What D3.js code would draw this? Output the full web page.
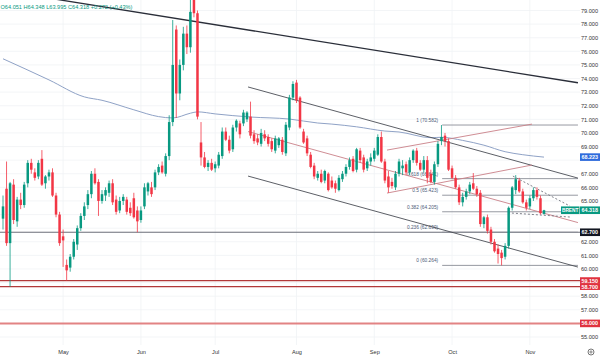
<!DOCTYPE html>
<html><head><meta charset="utf-8">
<script src="https://cdn.jsdelivr.net/npm/d3@7"></script>
<style>html,body{margin:0;padding:0;background:#fff;}svg{display:block;font-family:"Liberation Sans",Arial,sans-serif;}</style>
</head><body><svg id="c" width="600" height="359"></svg>
<script>
const openV=[63.7,65.9,61.9,66.2,63.5,65.1,64.7,66.3,67.8,67.1,66.8,68.1,66.3,66.8,67.1,65.4,64.0,62.4,60.3,60.1,60.9,61.8,63.0,63.9,64.7,65.5,67.0,66.4,65.0,65.4,65.6,66.3,65.1,64.3,65.0,65.1,64.5,65.2,64.3,63.6,64.6,65.7,66.0,66.0,67.1,67.6,67.0,68.3,70.8,77.6,72.9,75.0,77.3,76.3,81.0,78.8,69.3,68.2,67.5,67.8,67.4,67.6,68.3,70.1,69.5,68.8,70.4,70.7,70.7,71.0,71.2,69.9,69.6,69.2,69.9,69.7,69.4,68.7,69.1,69.5,68.5,70.4,72.6,73.7,72.6,70.1,69.6,68.4,67.6,66.7,67.0,66.5,67.0,66.5,66.3,65.8,66.6,67.0,67.5,68.1,67.3,68.7,68.2,67.4,67.9,68.1,68.4,69.7,67.9,66.8,66.4,66.0,67.0,67.4,67.7,67.1,68.0,68.7,67.8,67.3,68.0,67.0,66.4,67.7,69.4,69.8,69.4,67.4,66.7,66.0,64.9,65.3,65.7,66.3,65.9,65.6,63.3,63.8,62.9,62.0,61.5,61.2,60.9,61.7,64.5,65.8,66.5,65.7,64.9,64.6,65.2,65.8,65.2,64.051];
const highV=[65.4,67.9,66.4,66.6,65.3,65.6,66.4,68.0,68.1,67.4,68.0,68.74,66.9,67.3,67.4,65.6,64.2,62.9,60.7,61.1,62.2,63.2,64.1,64.9,65.8,67.2,67.4,66.6,65.8,66.0,66.5,66.6,65.4,65.3,65.5,65.3,64.9,65.6,64.6,64.6,66.3,66.4,66.4,67.3,67.7,67.9,68.5,71.3,78.3,77.9,75.4,77.8,77.9,79.9,81.5,79.0,70.8,68.6,68.0,68.1,67.9,68.6,70.4,70.4,69.8,70.6,71.0,70.9,71.7,71.6,72.3,70.2,69.9,70.3,70.2,69.9,69.6,69.8,69.7,69.7,70.8,72.8,73.8,73.9,72.7,70.3,69.8,68.6,67.8,67.2,67.3,67.3,67.1,66.8,66.5,66.9,67.2,67.7,68.2,68.3,68.9,68.9,68.4,68.1,68.5,68.9,69.9,70.1,68.1,67.2,66.7,67.2,68.1,68.0,67.9,68.2,68.8,68.9,68.0,68.3,68.3,67.3,67.9,69.4,70.582,70.0,69.6,67.6,66.9,66.2,65.6,65.9,66.4,67.05,66.1,65.8,63.9,64.0,63.1,62.2,61.8,61.4,61.9,64.6,66.1,66.9,66.7,65.9,65.1,65.4,66.0,66.0,65.4,64.348];
const lowV=[62.9,61.7,58.7,63.3,63.1,64.4,64.5,66.0,67.0,66.5,66.6,66.1,65.9,66.5,65.3,63.8,61.7,60.15,59.15,59.8,60.7,61.4,62.8,63.6,64.4,65.2,66.2,63.9,64.8,65.0,65.3,64.7,64.0,64.1,64.7,64.0,63.9,63.7,62.7,63.4,64.4,65.4,65.3,65.8,66.9,67.0,66.8,68.0,70.5,71.1,72.4,74.6,75.8,75.9,78.5,71.0,67.6,67.4,67.2,67.2,67.1,67.4,68.1,69.4,68.5,68.6,70.1,69.6,70.5,70.8,69.6,69.2,69.1,69.0,69.4,69.0,68.6,68.5,68.9,68.4,68.3,70.2,72.4,72.2,70.3,69.2,68.3,67.4,66.6,66.5,66.3,66.3,65.7,65.9,65.6,65.7,66.4,66.8,67.3,67.1,67.1,67.8,67.1,67.2,67.6,67.9,68.3,67.8,66.3,65.6,65.9,65.8,66.8,66.9,66.9,66.9,67.8,67.6,67.2,67.1,66.3,66.3,66.2,67.5,69.1,69.0,67.2,66.6,65.9,64.7,64.6,65.1,65.5,65.8,65.3,63.1,63.0,62.6,61.8,61.2,60.4,60.264,60.7,61.5,64.3,65.5,65.6,64.8,64.3,64.4,65.0,65.1,64.0,63.995];
const closeV=[64.6,61.9,66.3,63.6,65.1,64.7,66.2,67.8,67.3,66.7,67.8,66.2,66.8,67.1,65.4,64.0,61.9,62.1,59.9,60.9,62.0,63.0,63.9,64.6,65.5,67.0,66.3,65.0,65.5,65.8,66.3,64.9,64.2,65.0,65.3,64.2,64.1,63.8,63.5,64.3,66.0,66.3,65.5,67.1,67.5,67.1,68.3,70.8,75.0,72.9,75.0,77.3,76.3,78.9,78.8,71.2,68.2,67.5,67.8,67.3,67.7,68.4,70.1,69.5,68.7,70.4,70.9,69.9,71.5,71.5,69.8,69.4,69.3,70.0,69.6,69.2,68.8,69.6,69.6,68.6,70.6,72.6,73.6,72.4,70.4,69.3,68.5,67.5,66.8,67.0,66.4,67.2,65.8,66.0,65.9,66.7,67.0,67.5,68.0,67.2,68.8,68.0,67.3,67.9,68.2,68.7,69.7,67.9,66.5,66.0,66.1,67.0,67.9,67.6,67.1,68.0,68.7,67.8,67.3,68.0,66.7,66.4,67.7,69.2,69.7,69.4,67.3,66.7,66.0,64.9,65.3,65.7,66.2,65.9,65.5,63.3,63.8,62.8,62.0,61.3,61.1,60.8,61.7,64.5,66.0,66.6,65.7,64.9,64.5,65.2,65.8,65.3,64.1,64.318];
const monthLabels=["May","Jun","Jul","Aug","Sep","Oct","Nov"];
const monthIdx=[17,39,60,83,105,127,149];
const priceTicks=[55,56,57,58,59,60,61,62,63,64,65,66,67,68,69,70,71,72,73,74,75,76,77,78,79];
const maIdx=[0,13,23,28,37,44,48,53,55,60,70,81,89,93,100,108,112,121,124,130,136,142,147,153];
const maVal=[75.45,73.9,72.65,72.4,71.7,71.2,71.1,71.45,71.55,71.4,71.17,71.02,70.73,70.65,70.45,70.14,70.07,69.65,69.68,69.45,69.1,68.62,68.4,68.223];
const trendIdx=[0,162.6], trendVal=[80.45,73.69];
const chanIdx=[69.3,162.6], chanUpper=[73.38,66.68], chanMid=[70.10,63.41], chanLower=[66.83,60.14];
const riseIdx=[108.6,149.6], riseUpper=[68.74,70.65], riseLower=[65.58,67.64];
const triUpperIdx=[144.2,160.3], triUpperVal=[66.83,64.63];
const triLowerIdx=[142.8,160.3], triLowerVal=[64.13,63.82];
const fibHigh=70.582, fibLow=60.264, fibStartIdx=124.2, fibEndIdx=162.6;
const fibRatios=[1,0.618,0.5,0.382,0.236,0];
const supportLevels=[59.15,58.7,56.0];
const pivotLevel=62.7;
const lastClose=64.318, maLast=68.223;
const header="O64.051 H64.348 L63.995 C64.318 +0.272 (+0.43%)";

const svg=d3.select("#c");
const W=600,H=359, plotR=580, plotB=345;
const x=d3.scaleLinear().domain([0,163]).range([3,3+163*3.536]);
const y=d3.scaleLinear().domain([55,79]).range([337,10.5]);
const GREEN="#089981", RED="#f23645";
svg.append("defs").append("clipPath").attr("id","pc").append("rect").attr("x",0).attr("y",0).attr("width",plotR).attr("height",plotB);
const g=svg.append("g").attr("clip-path","url(#pc)");
// grid
g.selectAll(".hg").data(priceTicks).enter().append("line").attr("x1",0).attr("x2",plotR).attr("y1",d=>y(d)).attr("y2",d=>y(d)).attr("stroke","#f0f2f5").attr("stroke-width",0.8);
g.selectAll(".vg").data(monthIdx).enter().append("line").attr("y1",0).attr("y2",plotB).attr("x1",d=>x(d)).attr("x2",d=>x(d)).attr("stroke","#f0f2f5").attr("stroke-width",0.8);
// horizontal levels
g.append("line").attr("x1",0).attr("x2",plotR).attr("y1",y(pivotLevel)).attr("y2",y(pivotLevel)).attr("stroke","#6a6d78").attr("stroke-width",1);
supportLevels.forEach((v,k)=>{
  g.append("line").attr("x1",0).attr("x2",plotR).attr("y1",y(v)).attr("y2",y(v))
   .attr("stroke",k<2?"#b23a3a":"#e07070").attr("stroke-width",k<2?1.2:2).attr("opacity",k<2?1:0.85);
});
// fib
const fibVal=r=>fibLow+r*(fibHigh-fibLow);
fibRatios.forEach(r=>{
  const v=fibVal(r);
  g.append("line").attr("x1",x(fibStartIdx)).attr("x2",x(fibEndIdx)).attr("y1",y(v)).attr("y2",y(v)).attr("stroke","#8a8d96").attr("stroke-width",0.9);
  g.append("text").attr("x",x(fibStartIdx)-4).attr("y",y(v)-3).attr("text-anchor","end").attr("font-size",4.8).attr("fill","#4d5a78").text(r+" ("+v.toFixed(3)+")");
});
const seg=(i,v)=>d3.line().x(d=>x(d[0])).y(d=>y(d[1]))(i.map((a,k)=>[a,v[k]]));
// MA
g.append("path").attr("d",d3.line().curve(d3.curveMonotoneX).x(d=>x(d[0])).y(d=>y(d[1]))(maIdx.map((a,k)=>[a,maVal[k]]))).attr("fill","none").attr("stroke","#8fa2c6").attr("stroke-width",1);
// channel
g.append("path").attr("d",seg(chanIdx,chanUpper)).attr("stroke","#4a4d55").attr("stroke-width",0.9).attr("fill","none");
g.append("path").attr("d",seg(chanIdx,chanLower)).attr("stroke","#4a4d55").attr("stroke-width",0.9).attr("fill","none");
g.append("path").attr("d",seg(chanIdx,chanMid)).attr("stroke","#c98088").attr("stroke-width",0.9).attr("fill","none");
g.append("path").attr("d",seg(riseIdx,riseUpper)).attr("stroke","#c98088").attr("stroke-width",0.9).attr("fill","none");
g.append("path").attr("d",seg(riseIdx,riseLower)).attr("stroke","#c98088").attr("stroke-width",0.9).attr("fill","none");
g.append("path").attr("d",seg(trendIdx,trendVal)).attr("stroke","#2a2e39").attr("stroke-width",1.3).attr("fill","none");
g.append("path").attr("d",seg(triUpperIdx,triUpperVal)).attr("stroke","#70737d").attr("stroke-width",0.9).attr("stroke-dasharray","2,2").attr("fill","none");
g.append("path").attr("d",seg(triLowerIdx,triLowerVal)).attr("stroke","#70737d").attr("stroke-width",0.9).attr("stroke-dasharray","2,2").attr("fill","none");
// candles
const idx=d3.range(openV.length);
const cg=g.append("g");
cg.selectAll(".w").data(idx).enter().append("line")
  .attr("x1",i=>x(i)).attr("x2",i=>x(i)).attr("y1",i=>y(highV[i])).attr("y2",i=>y(lowV[i]))
  .attr("stroke",i=>closeV[i]>=openV[i]?GREEN:RED).attr("stroke-width",0.8);
cg.selectAll(".b").data(idx).enter().append("rect")
  .attr("x",i=>x(i)-1.25).attr("width",2.5)
  .attr("y",i=>y(Math.max(openV[i],closeV[i])))
  .attr("height",i=>Math.max(0.8,Math.abs(y(openV[i])-y(closeV[i]))))
  .attr("fill",i=>closeV[i]>=openV[i]?GREEN:RED);
// header
svg.append("text").attr("x",0.5).attr("y",9).attr("font-size",5.6).attr("fill",GREEN).text(header);
// axes
const tags=[{v:maLast,c:"#2f6bdc"},{v:lastClose,c:GREEN},{v:pivotLevel,c:"#131722"},{v:supportLevels[0],c:"#e0333f"},{v:supportLevels[1],c:"#e0333f"},{v:supportLevels[2],c:"#e0333f"}];
const shown=priceTicks.filter(t=>tags.every(tg=>Math.abs(y(t)-y(tg.v))>=6));
const ya=d3.axisLeft(y).tickValues(shown).tickSize(0).tickPadding(0).tickFormat(d3.format(".3f"));
const yg=svg.append("g").attr("transform","translate(598,0)").call(ya);
yg.select(".domain").remove();
yg.selectAll("text").attr("font-size",5.6).attr("fill","#333").attr("font-family","Liberation Sans, Arial, sans-serif");
const xa=d3.axisBottom(x).tickValues(monthIdx).tickSize(0).tickPadding(1).tickFormat((d,k)=>monthLabels[k]);
const xg=svg.append("g").attr("transform","translate(0,349)").call(xa);
xg.select(".domain").remove();
xg.selectAll("text").attr("font-size",5.6).attr("fill","#333").attr("font-family","Liberation Sans, Arial, sans-serif");
// tags
tags.forEach(tg=>{
  const h=(tg.v===supportLevels[0]||tg.v===supportLevels[1])?6.6:7.6;
  svg.append("rect").attr("x",580).attr("y",y(tg.v)-h/2).attr("width",20).attr("height",h).attr("fill",tg.c);
  svg.append("text").attr("x",598).attr("y",y(tg.v)+2).attr("text-anchor","end").attr("font-size",5.4).attr("font-weight","bold").attr("fill","#fff").text(tg.v.toFixed(3));
});
svg.append("rect").attr("x",561).attr("y",y(lastClose)-3.8).attr("width",18.5).attr("height",7.6).attr("fill",GREEN);
svg.append("text").attr("x",570.2).attr("y",y(lastClose)+2).attr("text-anchor","middle").attr("font-size",4.8).attr("font-weight","bold").attr("fill","#fff").text("BRENT");
// gear icon
svg.append("circle").attr("cx",591).attr("cy",352).attr("r",3).attr("fill","none").attr("stroke","#555").attr("stroke-width",0.8);
svg.append("circle").attr("cx",591).attr("cy",352).attr("r",1.1).attr("fill","none").attr("stroke","#555").attr("stroke-width",0.7);
</script></body></html>
